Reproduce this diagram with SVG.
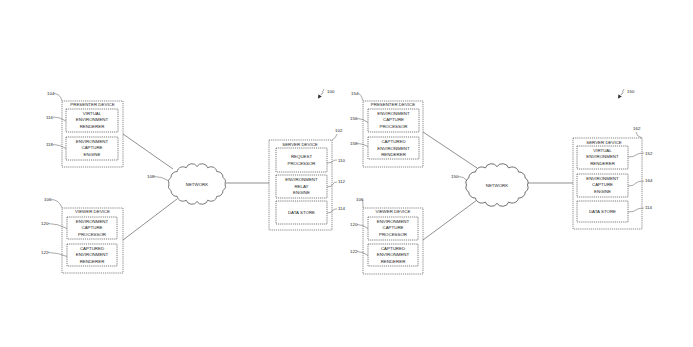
<svg xmlns="http://www.w3.org/2000/svg" width="693" height="347" viewBox="0 0 693 347">
<style>
.bg{fill:#fff}
.outer{fill:none;stroke:#555;stroke-width:0.7;stroke-dasharray:1.2 0.9}
.inner{fill:none;stroke:#444;stroke-width:0.7;stroke-dasharray:1.2 0.9}
.t{font-family:"Liberation Sans",Arial,sans-serif;font-size:4.4px;fill:#222;text-anchor:middle}
.n{font-family:"Liberation Sans",Arial,sans-serif;font-size:4.4px;fill:#222}
.ld{fill:none;stroke:#555;stroke-width:0.5}
.cn{fill:none;stroke:#444;stroke-width:0.6}
.cloud{fill:#fff;stroke:#444;stroke-width:0.7;vector-effect:non-scaling-stroke}
</style>
<defs>
<path id="cloudShape" d="M26.5,0 A5.5,5.5 0 0 1 24.5,6.7 A5.5,5.5 0 0 1 18.7,12.4 A5.5,5.5 0 0 1 10.1,16.2 A5.5,5.5 0 0 1 0,17.5 A5.5,5.5 0 0 1 -10.1,16.2 A5.5,5.5 0 0 1 -18.7,12.4 A5.5,5.5 0 0 1 -24.5,6.7 A5.5,5.5 0 0 1 -26.5,0 A5.5,5.5 0 0 1 -24.5,-6.7 A5.5,5.5 0 0 1 -18.7,-12.4 A5.5,5.5 0 0 1 -10.1,-16.2 A5.5,5.5 0 0 1 0,-17.5 A5.5,5.5 0 0 1 10.1,-16.2 A5.5,5.5 0 0 1 18.7,-12.4 A5.5,5.5 0 0 1 24.5,-6.7 A5.5,5.5 0 0 1 26.5,0 Z"/>
<marker id="ah" markerWidth="4" markerHeight="4" refX="2" refY="2" orient="auto" markerUnits="userSpaceOnUse"><path d="M0,0 L4,2 L0,4 Z" fill="#333"/></marker>
</defs>
<rect class="bg" x="0" y="0" width="693" height="347"/>

<g id="connectors">
<path class="cn" d="M123,134 L173,169"/>
<path class="cn" d="M123,240 L177,199"/>
<path class="cn" d="M226,183 L269,183"/>
<path class="cn" d="M423,132 L477,168"/>
<path class="cn" d="M423,240 L477,200"/>
<path class="cn" d="M528,183 L573,183"/>
</g>

<g id="fig100">
<path class="ld" d="M324,89 q-2,3 -1,4 q-2,1 -4,4" marker-end="url(#ah)"/>
<text class="n" x="327" y="93">100</text>
</g>
<g id="fig150">
<path class="ld" d="M624,89 q-2,3 -1,4 q-2,1 -4,4" marker-end="url(#ah)"/>
<text class="n" x="627" y="93">150</text>
</g>

<!-- LEFT SYSTEM -->
<g id="presenter-left">
<rect class="outer" x="62" y="101" width="61" height="66"/>
<text class="t" x="92.5" y="106">PRESENTER DEVICE</text>
<rect class="inner" x="66" y="109" width="52" height="23"/>
<text class="t" x="92" y="114.5">VIRTUAL</text>
<text class="t" x="92" y="121">ENVIRONMENT</text>
<text class="t" x="92" y="127.5">RENDERER</text>
<rect class="inner" x="66" y="137" width="52" height="23"/>
<text class="t" x="92" y="142.5">ENVIRONMENT</text>
<text class="t" x="92" y="149">CAPTURE</text>
<text class="t" x="92" y="155.5">ENGINE</text>
<text class="n" x="47" y="95">104</text>
<path class="ld" d="M54,93.5 q6,0 8,7.5"/>
<text class="n" x="46" y="118.5">116</text>
<path class="ld" d="M53,117 q7,0 13,4"/>
<text class="n" x="46" y="146">118</text>
<path class="ld" d="M53,144.5 q7,0 13,4"/>
</g>

<g id="viewer-left">
<rect class="outer" x="62" y="208" width="61" height="65"/>
<text class="t" x="92.5" y="213">VIEWER DEVICE</text>
<rect class="inner" x="67" y="217" width="50" height="22"/>
<text class="t" x="92" y="222.5">ENVIRONMENT</text>
<text class="t" x="92" y="229">CAPTURE</text>
<text class="t" x="92" y="235.5">PROCESSOR</text>
<rect class="inner" x="67" y="244" width="50" height="22"/>
<text class="t" x="92" y="249.5">CAPTURED</text>
<text class="t" x="92" y="256">ENVIRONMENT</text>
<text class="t" x="92" y="262.5">RENDERER</text>
<text class="n" x="44" y="201">106</text>
<path class="ld" d="M51,199.5 q8,0 11,8.5"/>
<text class="n" x="41" y="225">120</text>
<path class="ld" d="M48,223.5 q10,0 19,5"/>
<text class="n" x="41" y="254">122</text>
<path class="ld" d="M48,252.5 q10,0 19,4"/>
</g>

<g id="network-left">
<use href="#cloudShape" class="cloud" transform="translate(197,184) scale(1.06,1.0)"/>
<text class="t" x="197" y="185.5">NETWORK</text>
<text class="n" x="147" y="178">108</text>
<path class="ld" d="M154,176.5 q8,0 14,4"/>
</g>

<g id="server-left">
<rect class="outer" x="269" y="140" width="63" height="90"/>
<text class="t" x="300" y="145.5">SERVER DEVICE</text>
<rect class="inner" x="276" y="148" width="51" height="24"/>
<text class="t" x="301.5" y="158">REQUEST</text>
<text class="t" x="301.5" y="164.5">PROCESSOR</text>
<rect class="inner" x="276" y="175" width="51" height="23"/>
<text class="t" x="301.5" y="181">ENVIRONMENT</text>
<text class="t" x="301.5" y="187.5">RELAY</text>
<text class="t" x="301.5" y="194">ENGINE</text>
<rect class="inner" x="276" y="201" width="51" height="23"/>
<text class="t" x="301.5" y="214">DATA STORE</text>
<text class="n" x="335" y="132">102</text>
<path class="ld" d="M337,134 q-1,4 -5,6"/>
<text class="n" x="338" y="162">110</text>
<path class="ld" d="M327,163 q5,0 6,-2 q1,-1 4,-1"/>
<text class="n" x="338" y="183">112</text>
<path class="ld" d="M327,187 q5,0 6,-3 q1,-2 4,-2"/>
<text class="n" x="338" y="210">114</text>
<path class="ld" d="M327,213 q5,0 6,-3 q1,-1 4,-1"/>
</g>

<!-- RIGHT SYSTEM -->
<g id="presenter-right">
<rect class="outer" x="363" y="101" width="60" height="66"/>
<text class="t" x="393" y="106">PRESENTER DEVICE</text>
<rect class="inner" x="368" y="109" width="51" height="23"/>
<text class="t" x="393.5" y="114.5">ENVIRONMENT</text>
<text class="t" x="393.5" y="121">CAPTURE</text>
<text class="t" x="393.5" y="127.5">PROCESSOR</text>
<rect class="inner" x="368" y="137" width="51" height="22"/>
<text class="t" x="393.5" y="143">CAPTURED</text>
<text class="t" x="393.5" y="149.5">ENVIRONMENT</text>
<text class="t" x="393.5" y="156">RENDERER</text>
<text class="n" x="351" y="95">154</text>
<path class="ld" d="M358,93.5 q3,0 5,7.5"/>
<text class="n" x="350" y="120">156</text>
<path class="ld" d="M357,118.5 q6,0 11,4"/>
<text class="n" x="350" y="145">158</text>
<path class="ld" d="M357,143.5 q6,0 11,3"/>
</g>

<g id="viewer-right">
<rect class="outer" x="363" y="208" width="60" height="66"/>
<text class="t" x="393" y="213">VIEWER DEVICE</text>
<rect class="inner" x="368" y="217" width="50" height="23"/>
<text class="t" x="393" y="222.5">ENVIRONMENT</text>
<text class="t" x="393" y="229">CAPTURE</text>
<text class="t" x="393" y="235.5">PROCESSOR</text>
<rect class="inner" x="368" y="244" width="50" height="22"/>
<text class="t" x="393" y="249.5">CAPTURED</text>
<text class="t" x="393" y="256">ENVIRONMENT</text>
<text class="t" x="393" y="262.5">RENDERER</text>
<text class="n" x="356" y="201">106</text>
<path class="ld" d="M362,199.5 q1,0 1,8.5"/>
<text class="n" x="350" y="226">120</text>
<path class="ld" d="M357,224.5 q6,0 11,4"/>
<text class="n" x="350" y="253">122</text>
<path class="ld" d="M357,251.5 q6,0 11,4"/>
</g>

<g id="network-right">
<use href="#cloudShape" class="cloud" transform="translate(497,185) scale(1.15,1.05)"/>
<text class="t" x="497" y="186.5">NETWORK</text>
<text class="n" x="451" y="178">150</text>
<path class="ld" d="M458,176.5 q6,0 9,4"/>
</g>

<g id="server-right">
<rect class="outer" x="573" y="138" width="69" height="91"/>
<text class="t" x="604" y="143.5">SERVER DEVICE</text>
<rect class="inner" x="577" y="146" width="51" height="23"/>
<text class="t" x="602.5" y="151.5">VIRTUAL</text>
<text class="t" x="602.5" y="158">ENVIRONMENT</text>
<text class="t" x="602.5" y="164.5">RENDERER</text>
<rect class="inner" x="577" y="174" width="51" height="23"/>
<text class="t" x="602.5" y="179.5">ENVIRONMENT</text>
<text class="t" x="602.5" y="186">CAPTURE</text>
<text class="t" x="602.5" y="192.5">ENGINE</text>
<rect class="inner" x="577" y="201" width="51" height="21"/>
<text class="t" x="602.5" y="213">DATA STORE</text>
<text class="n" x="633" y="130">162</text>
<path class="ld" d="M636,132 q0,4 6,6"/>
<text class="n" x="645" y="155">152</text>
<path class="ld" d="M628,157 q6,0 8,-2 q2,-2 8,-2"/>
<text class="n" x="645" y="182">164</text>
<path class="ld" d="M628,186 q6,0 8,-3 q2,-2 8,-2"/>
<text class="n" x="645" y="209">114</text>
<path class="ld" d="M628,212 q6,0 8,-2 q2,-2 8,-2"/>
</g>
</svg>
